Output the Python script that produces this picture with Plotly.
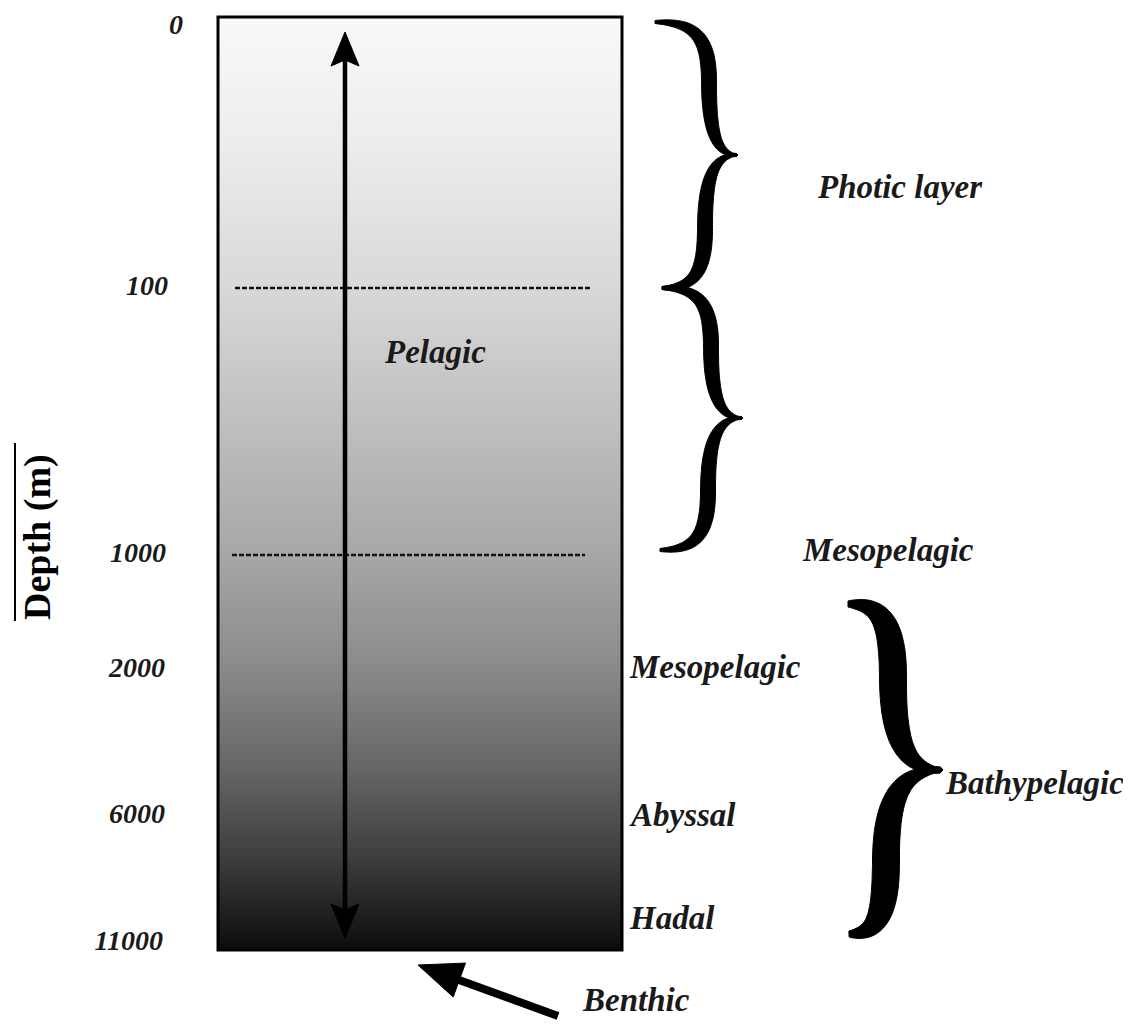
import numpy as np
import plotly.graph_objects as go

# ---------------- data ----------------
depth_labels = ["0", "100", "1000", "2000", "6000", "11000"]
depth_rows = [20, 285, 552, 667, 813, 940]          # row of each depth mark in the diagram

zone_labels = ["Mesopelagic", "Abyssal", "Hadal"]   # labels beside the column
zone_rows = [667, 815, 918]

layer_labels = ["Photic layer", "Mesopelagic", "Bathypelagic"]
layer_rows = [187, 550, 783]

dashed_depths = ["100", "1000"]                      # depths marked with dashed lines

gradient_pos = [0.0, 0.14, 0.29, 0.43, 0.57, 0.69, 0.80, 0.90, 1.0]
gradient_gray = [249, 236, 216, 192, 168, 140, 104, 62, 12]

# ---------------- geometry (px canvas) ----------------
W, H = 1131, 1028
PAGE_OFF = 8   # default page body margin
COL_L, COL_R, COL_T, COL_B = 218, 622, 17, 950
FONT = "Liberation Serif, Times New Roman, serif"
LBL = 33
TXT_SHIFT = 3   # text-trace baseline correction
TOP_SAFE = 27   # keep the top label inside the page

fig = go.Figure()

# gradient column
n = 311
y_edges = np.linspace(COL_T, COL_B, n + 1)
y_cent = (y_edges[:-1] + y_edges[1:]) / 2
cs = [[p, f"rgb({g},{g},{g})"] for p, g in zip(gradient_pos, gradient_gray)]
fig.add_trace(go.Heatmap(
    x=[COL_L, COL_R], y=y_edges, z=[[v] for v in y_cent],
    zmin=COL_T, zmax=COL_B, colorscale=cs, showscale=False, hoverinfo="skip"))

# depth tick labels as a text trace
tick_right = [183, 168, 166, 165, 165, 163]
fig.add_trace(go.Scatter(
    x=tick_right, y=[max(r + TXT_SHIFT, TOP_SAFE) for r in depth_rows], text=depth_labels, mode="text",
    textposition="middle left", hoverinfo="skip", cliponaxis=False,
    textfont=dict(family=FONT, size=28, color="#1a1a1a", weight="bold", style="italic")))

# benthic label as a text trace
fig.add_trace(go.Scatter(
    x=[583], y=[1003], text=["Benthic"], mode="text",
    textposition="middle right", hoverinfo="skip", cliponaxis=False,
    textfont=dict(family=FONT, size=LBL, color="#1a1a1a", weight="bold", style="italic")))

shapes = []
# border
shapes.append(dict(type="rect", x0=COL_L, x1=COL_R, y0=COL_T, y1=COL_B,
                   line=dict(color="black", width=3), fillcolor="rgba(0,0,0,0)"))

# dashed depth lines
dash_x = {"100": (235, 590), "1000": (232, 585)}
for d in dashed_depths:
    yy = depth_rows[depth_labels.index(d)] + 3
    x0, x1 = dash_x[d]
    shapes.append(dict(type="line", x0=x0, x1=x1, y0=yy, y1=yy,
                       line=dict(color="#111111", width=2.6, dash="5px,2px")))


def poly_path(pts):
    return "M " + " L ".join(f"{x:.1f},{y:.1f}" for x, y in pts) + " Z"


# pelagic double arrow
ax_x = 345
shapes.append(dict(type="line", x0=ax_x, x1=ax_x, y0=58, y1=912,
                   line=dict(color="black", width=4.5)))
shapes.append(dict(type="path", path=poly_path([(ax_x, 32), (ax_x - 14, 66), (ax_x, 60), (ax_x + 14, 66)]),
                   fillcolor="black", line=dict(color="black", width=1)))
shapes.append(dict(type="path", path=poly_path([(ax_x, 938), (ax_x - 14, 904), (ax_x, 910), (ax_x + 14, 904)]),
                   fillcolor="black", line=dict(color="black", width=1)))

# benthic arrow
tail = np.array([558.0, 1016.0])
tip = np.array([418.0, 965.0])
u = (tip - tail) / np.linalg.norm(tip - tail)
perp = np.array([-u[1], u[0]])
base = tip - 44 * u
shapes.append(dict(type="line", x0=tail[0], y0=tail[1], x1=(base + 4 * u)[0], y1=(base + 4 * u)[1],
                   line=dict(color="black", width=8)))
head = [tuple(tip), tuple(base + 18 * perp), tuple(base - 18 * perp)]
shapes.append(dict(type="path", path=poly_path(head), fillcolor="black",
                   line=dict(color="black", width=1)))


# curly braces
def bez(p0, p1, p2, p3, m=40):
    t = np.linspace(0, 1, m)[:, None]
    p0, p1, p2, p3 = map(np.array, (p0, p1, p2, p3))
    return (1 - t) ** 3 * p0 + 3 * (1 - t) ** 2 * t * p1 + 3 * (1 - t) * t ** 2 * p2 + t ** 3 * p3


def half(E, T, xa):
    d = T[1] - E[1]
    s1 = bez(E, (E[0] + 0.75 * (xa - E[0]), E[1]), (xa, E[1] + 0.12 * d), (xa, E[1] + 0.45 * d))
    s2 = bez((xa, E[1] + 0.45 * d), (xa, E[1] + 0.85 * d), (xa + 0.3 * (T[0] - xa), T[1]), T)
    return np.vstack([s1, s2[1:]])


def half_shape(E, T, xa, wmax, wend):
    P = half(E, T, xa)
    uu = np.linspace(0, 1, len(P))
    w = wend + (wmax - wend) * np.sin(np.pi * np.clip(uu * 1.05, 0, 1)) ** 0.9
    w[-1] = 0.0
    g = np.gradient(P, axis=0)
    g /= np.linalg.norm(g, axis=1)[:, None] + 1e-9
    nrm = np.column_stack([-g[:, 1], g[:, 0]])
    a = P + nrm * w[:, None] / 2
    b = P - nrm * w[:, None] / 2
    pts = [tuple(p) for p in a] + [tuple(p) for p in b[::-1]]
    return dict(type="path", path=poly_path(pts), fillcolor="black",
                line=dict(color="black", width=1))


def brace(Et, T, Eb, xa_t, xa_b, wmax, wend):
    return [half_shape(Et, T, xa_t, wmax, wend), half_shape(Eb, T, xa_b, wmax, wend)]


shapes += brace((655, 22), (738, 155), (662, 288), 709, 705, 15, 3)
shapes += brace((662, 288), (743, 418), (660, 550), 711, 708, 15, 3)
shapes += brace((848, 604), (943, 770), (849, 934), 893, 886, 27, 6)

# ---------------- text ----------------
ann = []
for lab, r in zip(zone_labels, zone_rows):
    ann.append(dict(x=627, y=r, text=f"<b><i>{lab}</i></b>", xanchor="left", yanchor="middle",
                    showarrow=False, font=dict(family=FONT, size=LBL, color="#1a1a1a")))

layer_left = [815, 800, 943]
for lab, r, xl in zip(layer_labels, layer_rows, layer_left):
    ann.append(dict(x=xl, y=r, text=f"<b><i>{lab}</i></b>", xanchor="left", yanchor="middle",
                    showarrow=False, font=dict(family=FONT, size=LBL, color="#1a1a1a")))

ann.append(dict(x=435, y=352, text="<b><i>Pelagic</i></b>", xanchor="center", yanchor="middle",
                showarrow=False, font=dict(family=FONT, size=LBL, color="#1a1a1a")))

# axis title (rotated)
ann.append(dict(x=37, y=537, text="<b>Depth (m)</b>", textangle=-90, xanchor="center", yanchor="middle",
                showarrow=False, font=dict(family=FONT, size=38, color="black")))
shapes.append(dict(type="line", x0=15, x1=15, y0=443, y1=621, line=dict(color="black", width=2)))

fig.update_layout(
    width=W - 2 * PAGE_OFF, height=H - 2 * PAGE_OFF, margin=dict(l=0, r=0, t=0, b=0),
    paper_bgcolor="white", plot_bgcolor="white",
    xaxis=dict(range=[PAGE_OFF, W - PAGE_OFF], visible=False, fixedrange=True),
    yaxis=dict(range=[H - PAGE_OFF, PAGE_OFF], visible=False, fixedrange=True),
    shapes=shapes, annotations=ann, showlegend=False,
)

fig.write_html("out.html")
